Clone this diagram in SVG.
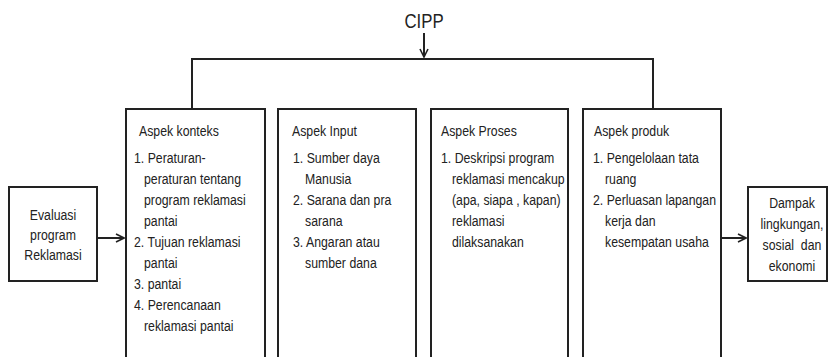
<svg xmlns="http://www.w3.org/2000/svg" width="829" height="357" viewBox="0 0 829 357">
  <defs>
    <marker id="arrow" viewBox="0 0 10 10" refX="9" refY="5" markerWidth="10" markerHeight="10" markerUnits="userSpaceOnUse" orient="auto">
      <path d="M1,1 L9,5 L1,9" fill="none" stroke="#222" stroke-width="1.6"/>
    </marker>
  </defs>
  <style>
    text { font-family: "Liberation Sans", Arial, sans-serif; font-size: 15px; fill: #222;
           transform-box: fill-box; transform-origin: 0 50%; transform: scaleX(0.82); }
    .title { font-size: 21px; text-anchor: middle; transform-origin: 50% 50%; transform: scaleX(0.8); }
    .mid { text-anchor: middle; transform-origin: 50% 50%; }
    .box { fill: #fff; stroke: #222; stroke-width: 2; }
    .line { fill: none; stroke: #222; stroke-width: 2; }
  </style>
  <rect width="829" height="357" fill="#fff"/>

  <!-- connectors -->
  <g id="connectors">
    <line class="line" x1="424" y1="33" x2="424" y2="57" marker-end="url(#arrow)" stroke-width="1.5"/>
    <polyline class="line" points="192,109 192,59 653,59 653,109"/>
    <line class="line" x1="97" y1="238" x2="124" y2="238" marker-end="url(#arrow)"/>
    <line class="line" x1="722" y1="238" x2="746" y2="238" marker-end="url(#arrow)"/>
  </g>

  <g id="cipp">
    <text class="title" x="424" y="28">CIPP</text>
  </g>

  <g id="evaluasi">
    <rect class="box" x="9" y="187" width="88" height="94"/>
    <text class="mid" x="53" y="220">Evaluasi</text>
    <text class="mid" x="53" y="240">program</text>
    <text class="mid" x="53" y="260">Reklamasi</text>
  </g>

  <g id="konteks">
    <rect class="box" x="126" y="109" width="139" height="260"/>
    <text x="139" y="136">Aspek konteks</text>
    <text x="134" y="163">1. Peraturan-</text>
    <text x="144" y="184">peraturan tentang</text>
    <text x="144" y="205">program reklamasi</text>
    <text x="144" y="226">pantai</text>
    <text x="134" y="247">2. Tujuan reklamasi</text>
    <text x="144" y="268">pantai</text>
    <text x="134" y="289">3. pantai</text>
    <text x="134" y="310">4. Perencanaan</text>
    <text x="144" y="331">reklamasi pantai</text>
  </g>

  <g id="input">
    <rect class="box" x="278" y="109" width="138" height="260"/>
    <text x="292" y="136">Aspek Input</text>
    <text x="293" y="163">1. Sumber daya</text>
    <text x="305" y="184">Manusia</text>
    <text x="293" y="205">2. Sarana dan pra</text>
    <text x="305" y="226">sarana</text>
    <text x="293" y="247">3. Angaran atau</text>
    <text x="305" y="268">sumber dana</text>
  </g>

  <g id="proses">
    <rect class="box" x="431" y="109" width="137" height="260"/>
    <text x="441" y="136">Aspek Proses</text>
    <text x="441" y="163">1. Deskripsi program</text>
    <text x="452" y="184">reklamasi mencakup</text>
    <text x="452" y="205">(apa, siapa , kapan)</text>
    <text x="452" y="226">reklamasi</text>
    <text x="452" y="247">dilaksanakan</text>
  </g>

  <g id="produk">
    <rect class="box" x="583" y="109" width="138" height="260"/>
    <text x="594" y="136">Aspek produk</text>
    <text x="593" y="163">1. Pengelolaan tata</text>
    <text x="605" y="184">ruang</text>
    <text x="593" y="205">2. Perluasan lapangan</text>
    <text x="605" y="226">kerja dan</text>
    <text x="605" y="247">kesempatan usaha</text>
  </g>

  <g id="dampak">
    <rect class="box" x="748" y="187" width="79" height="94"/>
    <text class="mid" x="792" y="208">Dampak</text>
    <text class="mid" x="792" y="229">lingkungan,</text>
    <text class="mid" x="792" y="250">sosial&#160; dan</text>
    <text class="mid" x="792" y="271">ekonomi</text>
  </g>
</svg>
